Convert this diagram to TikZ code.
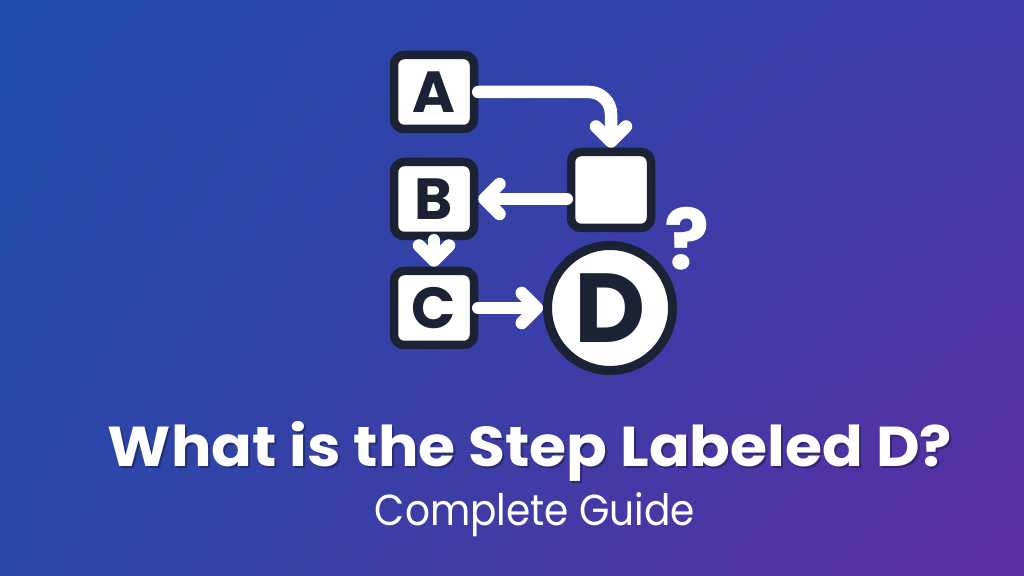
\documentclass[tikz,border=0pt]{standalone}
\usepackage{fontspec}
\usepackage{graphicx}
\setmainfont{Poppins}
\usetikzlibrary{arrows.meta,calc,shadings}
\definecolor{bgTL}{RGB}{30,74,170}
\definecolor{bgTR}{RGB}{62,60,170}
\definecolor{bgBL}{RGB}{42,72,168}
\definecolor{bgBR}{RGB}{92,44,162}
\definecolor{navy}{RGB}{27,34,51}
\tikzset{
  stepbox/.style={draw=navy, fill=white, line width=8.5pt, rounded corners=10pt,
    minimum width=80pt, minimum height=74pt, inner sep=0pt,
    font=\fontsize{58}{58}\selectfont\bfseries, text=navy},
  stepcircle/.style={circle, draw=navy, fill=white, line width=9pt,
    minimum size=125pt, inner sep=0pt,
    font=\fontsize{98}{98}\selectfont\bfseries, text=navy},
  flow/.style={draw=white, line width=12.5pt, line cap=round, line join=round,
    -{Straight Barb[length=15pt,width=30pt,round]}},
  titletext/.style={text=white, inner sep=0pt, anchor=base},
}
\begin{document}
\begin{tikzpicture}[x=1pt,y=1pt]
\useasboundingbox (0,0) rectangle (1024,575);
\shade[upper left=bgTL, upper right=bgTR, lower left=bgBL, lower right=bgBR] (0,0) rectangle (1024,575);
% nodes
\node[stepbox] (A) at (434,483) {A};
\node[stepbox] (B) at (434,376) {B};
\node[stepbox] (C) at (434,267) {C};
\node[stepbox, minimum height=76pt] (E) at (611,385) {};
\node[stepcircle] (D) at (610,267) {D};
\node[text=white, inner sep=0pt, font=\fontsize{84}{84}\selectfont\bfseries] (Q) at (687,336) {?};
% connectors
\draw[flow, rounded corners=22pt] (A.east) -| (E.north);
\draw[flow] (E.west |- B.east) -- (B.east);
\draw[flow] (B.south) -- (C.north);
\draw[flow] (C.east) -- (D.west);
% title
\node[titletext, text=black, opacity=0.3] at (532,106) {\resizebox{844pt}{45pt}{\bfseries What is the Step Labeled D?}};
\node[titletext] (T) at (530,108) {\resizebox{844pt}{45pt}{\bfseries What is the Step Labeled D?}};
\node[titletext] (S) at (535,50) {\resizebox{320pt}{33pt}{Complete Guide}};
\end{tikzpicture}
\end{document}
